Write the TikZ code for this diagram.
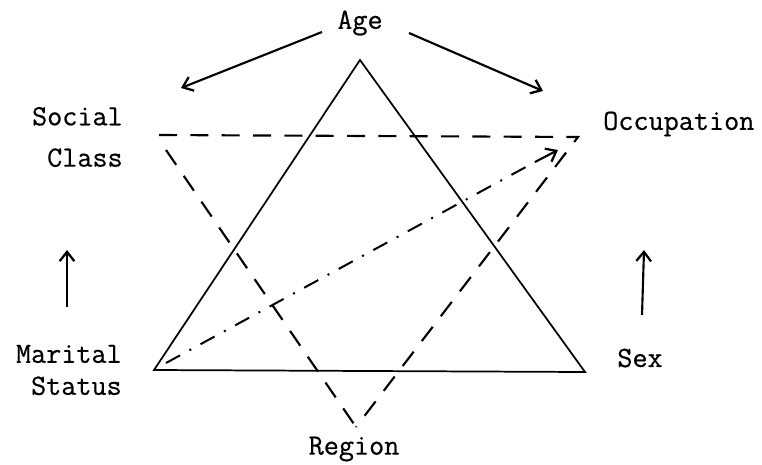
\documentclass[tikz,border=0pt]{standalone}
\usepackage{fontspec}
\newfontfamily\tw{Latin Modern Mono}[FakeBold=0.6]
\usetikzlibrary{arrows.meta}
\begin{document}
\begin{tikzpicture}[x=0.75pt,y=-0.75pt,
  lbl/.style={font=\tw\fontsize{22}{28}\selectfont, inner sep=0pt},
  tri/.style={line width=1.3pt, line join=miter},
  dsh/.style={line width=1.6pt, dash pattern=on 13.5pt off 10pt},
  dshdot/.style={line width=1.5pt, dash pattern=on 12pt off 8pt on 1.5pt off 8pt},
  tip/.style={-{Straight Barb[length=7pt,width=11pt,line width=1.7pt]}},
  arr/.style={line width=1.6pt, tip}]
\useasboundingbox (0,0) rectangle (762,464);
% labels
\node[lbl] (age) at (360,23) {Age};
\node[lbl, align=right, anchor=east] (social) at (123,137) {Social\\[3pt]Class};
\node[lbl, anchor=west] (occ) at (603,124) {Occupation};
\node[lbl, align=right, anchor=east, font=\tw\fontsize{22}{24}\selectfont] (marital) at (122,370) {Marital\\Status};
\node[lbl] (sex) at (640,358) {Sex};
\node[lbl] (region) at (354,449) {Region};
% solid triangle
\coordinate (A) at (360,60);
\coordinate (B) at (154,370);
\coordinate (C) at (585,372);
\draw[tri] (A) -- (B) -- (C) -- cycle;
% dashed triangle
\coordinate (D) at (159,135);
\coordinate (E) at (578,137);
\coordinate (F) at (356,427);
\coordinate (D2) at (166,150);
\draw[dsh] (D) -- (E) -- (F);
\draw[dsh] (D2) -- (F);
% dash-dot arrow
\coordinate (G) at (166,363);
\coordinate (G2) at (535,162);
\coordinate (H) at (558,150);
\draw[dshdot] (G) -- (G2);
\draw[arr] (G2) -- (H);
% arrows from Age
\coordinate (L) at (181,88);
\coordinate (R) at (543,91);
\draw[arr] (322,32) -- (L);
\draw[arr] (409,33) -- (R);
% vertical arrows
\coordinate (m1) at (67,307);
\coordinate (m2) at (67,250);
\coordinate (s1) at (642,315);
\coordinate (s2) at (644,250);
\draw[arr] (m1) -- (m2);
\draw[arr] (s1) -- (s2);
\end{tikzpicture}
\end{document}
